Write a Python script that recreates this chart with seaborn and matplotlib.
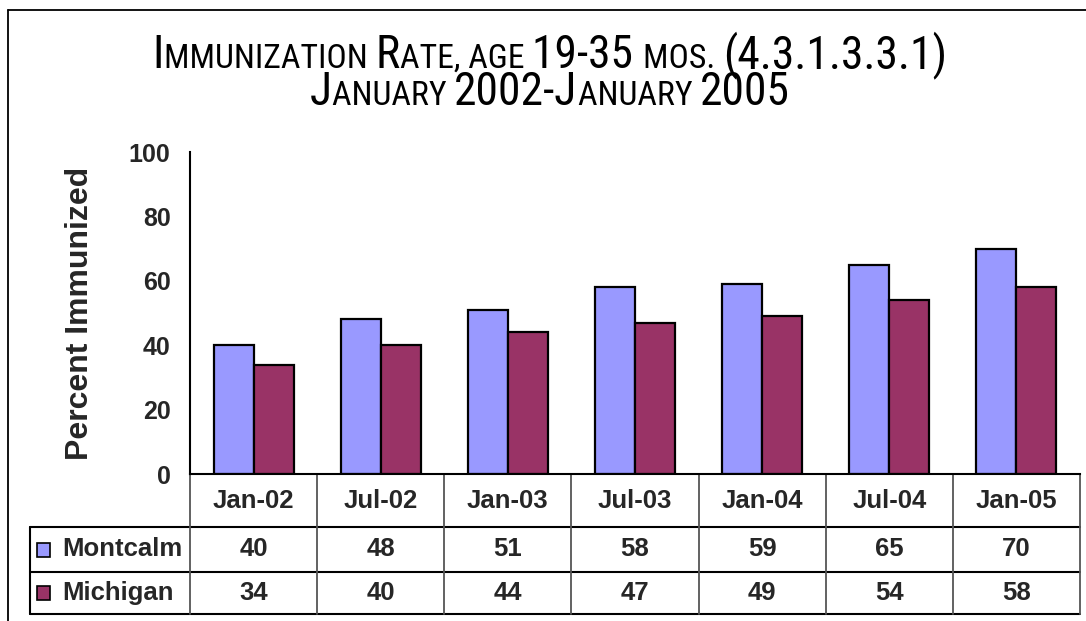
import matplotlib
matplotlib.use("Agg")
import matplotlib.pyplot as plt
from matplotlib import font_manager
from matplotlib.patches import Rectangle
from matplotlib.lines import Line2D
import seaborn as sns
import pandas as pd

periods = ['Jan-02', 'Jul-02', 'Jan-03', 'Jul-03', 'Jan-04', 'Jul-04', 'Jan-05']
montcalm = [40, 48, 51, 58, 59, 65, 70]
michigan = [34, 40, 44, 47, 49, 54, 58]
series = ['Montcalm', 'Michigan']
colors = ['#9999FF', '#993366']

title1 = [('I', 1), ('MMUNIZATION ', 0), ('R', 1), ('ATE, AGE ', 0), ('19-35 ', 1),
          ('MOS. ', 0), ('(4.3.1.3.3.1)', 1)]
title2 = [('J', 1), ('ANUARY ', 0), ('2002-J', 1), ('ANUARY ', 0), ('2005', 1)]

df = pd.DataFrame({
    'period': periods * 2,
    'value': montcalm + michigan,
    'series': [series[0]] * len(periods) + [series[1]] * len(periods),
})

sns.set_style("white")
plt.rcParams['font.family'] = ['Liberation Sans', 'DejaVu Sans']


def pick_font(cands):
    for c in cands:
        try:
            font_manager.findfont(font_manager.FontProperties(family=c), fallback_to_default=False)
            return c
        except Exception:
            pass
    return 'DejaVu Sans'


title_font = pick_font(['Roboto Condensed', 'Open Sans'])

fig = plt.figure(figsize=(10.86, 6.21), dpi=100)
ax = fig.add_axes([190 / 1086, 1 - 474 / 621, 890 / 1086, 322 / 621])

sns.barplot(data=df, x='period', y='value', hue='series', palette=colors, saturation=1,
            width=0.63, edgecolor='black', linewidth=1.6, ax=ax, legend=False)

ax.set_xlim(-0.5, 6.5)
ax.set_ylim(0, 100)
ax.set_yticks(range(0, 101, 20))
ax.set_xticks([])
ax.set_xlabel('')
ax.set_ylabel('Percent Immunized', fontsize=23, fontweight='bold', labelpad=24)
ax.tick_params(axis='y', direction='out', length=6, width=1.5, color='black',
               labelsize=18, pad=8)
for lab in ax.get_yticklabels():
    lab.set_fontweight('bold')
sns.despine(ax=ax, top=True, right=True)
for s in ['left', 'bottom']:
    ax.spines[s].set_color('black')
    ax.spines[s].set_linewidth(1.5)

# data table below the axes
rows = [0, -53 / 322, -98 / 322, -140 / 322]
left = (30 - 190) / 890
n = len(periods)
kw = dict(transform=ax.transAxes, clip_on=False, color='black', lw=1.5)
for y in rows[1:]:
    ax.add_line(Line2D([left, 1], [y, y], **kw))
ax.add_line(Line2D([left, left], [rows[1], rows[3]], **kw))
for i in range(n + 1):
    ax.add_line(Line2D([i / n, i / n], [0, rows[3]], transform=ax.transAxes,
                       clip_on=False, color='#555555', lw=1.3))

for i, p in enumerate(periods):
    xc = (i + 0.5) / n
    ax.text(xc, (rows[0] + rows[1]) / 2, p, transform=ax.transAxes, ha='center',
            va='center', fontsize=18.5, fontweight='bold')
    for r, vals in enumerate([montcalm, michigan]):
        ax.text(xc, (rows[r + 1] + rows[r + 2]) / 2, str(vals[i]), transform=ax.transAxes,
                ha='center', va='center', fontsize=18.5, fontweight='bold')

for r, name in enumerate(series):
    yc = (rows[r + 1] + rows[r + 2]) / 2
    ax.add_patch(Rectangle(((37 - 190) / 890, yc - 7 / 322), 13 / 890, 14 / 322,
                           transform=ax.transAxes, clip_on=False,
                           facecolor=colors[r], edgecolor='black', lw=1.2))
    ax.text((62 - 190) / 890, yc, name, transform=ax.transAxes, ha='left', va='center',
            fontsize=18.5, fontweight='bold')

# outer frame
fx = 8 / 1086
fy = 1 - 10 / 621
fig.add_artist(Line2D([fx, fx], [0, fy], transform=fig.transFigure, color='black', lw=1.3))
fig.add_artist(Line2D([fx, 1], [fy, fy], transform=fig.transFigure, color='black', lw=1.3))


# small-caps title built from pieces, scaled so line 1 is ~796 px wide
def make_pieces(parts, base_y, big, small):
    return [fig.text(0, base_y, s, fontsize=big if b else small, family=title_font,
                     fontweight='normal', ha='left', va='baseline', color='black')
            for s, b in parts]


def place(texts):
    renderer = fig.canvas.get_renderer()
    widths = [t.get_window_extent(renderer).width for t in texts]
    x = 550 - sum(widths) / 2
    for t, w in zip(texts, widths):
        t.set_x(x / 1086)
        x += w
    return sum(widths)


line1 = make_pieces(title1, 1 - 68 / 621, 31, 23)
line2 = make_pieces(title2, 1 - 105 / 621, 31, 23)
w1 = place(line1)
scale = min(1.12, 796 / w1)
for t in line1 + line2:
    t.set_fontsize(t.get_fontsize() * scale)
place(line1)
place(line2)

fig.savefig('out.png', dpi=100)
